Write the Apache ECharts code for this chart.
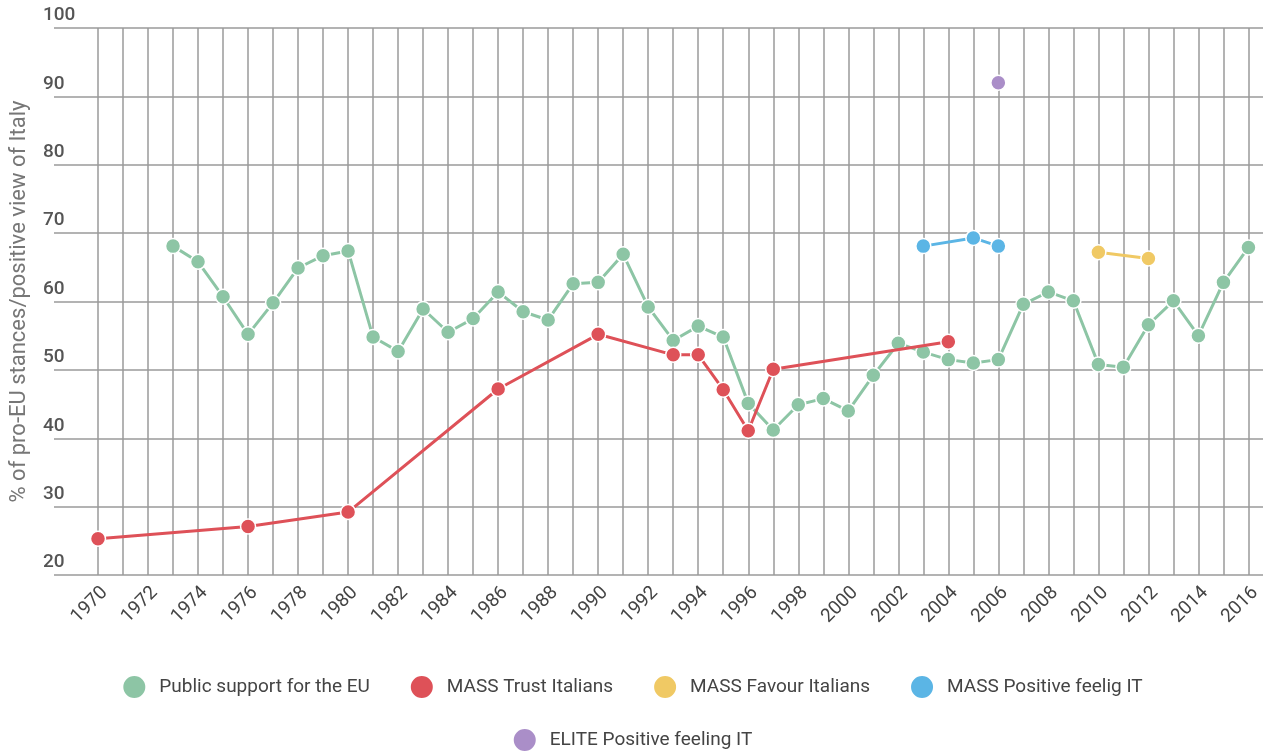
<!DOCTYPE html>
<html>
<head>
<meta charset="utf-8">
<script src="https://cdn.jsdelivr.net/npm/echarts@6/dist/echarts.min.js"></script>
<style>
html,body{margin:0;padding:0;background:#fff;}
#chart{width:1264px;height:753px;}
</style>
</head>
<body>
<div id="chart"></div>
<script>
var seriesNames = ['Public support for the EU','MASS Trust Italians','MASS Favour Italians','MASS Positive feelig IT','ELITE Positive feeling IT'];
var yTicks = [20,30,40,50,60,70,80,90,100];

var publicYears = [1973,1974,1975,1976,1977,1978,1979,1980,1981,1982,1983,1984,1985,1986,1987,1988,1989,1990,1991,1992,1993,1994,1995,1996,1997,1998,1999,2000,2001,2002,2003,2004,2005,2006,2007,2008,2009,2010,2011,2012,2013,2014,2015,2016];
var publicValues = [68.1,65.8,60.7,55.2,59.8,64.9,66.7,67.4,54.8,52.7,58.9,55.5,57.5,61.4,58.5,57.3,62.6,62.8,66.9,59.2,54.3,56.4,54.8,45.1,41.2,44.9,45.8,44.0,49.2,53.9,52.6,51.5,51.0,51.5,59.6,61.4,60.1,50.8,50.4,56.6,60.1,55.0,62.8,67.9];

var trustYears = [1970,1976,1980,1986,1990,1993,1994,1995,1996,1997,2004];
var trustValues = [25.3,27.1,29.2,47.2,55.2,52.2,52.2,47.1,41.1,50.1,54.1];

var favourYears = [2010,2012];
var favourValues = [67.2,66.3];

var massFeelYears = [2003,2005,2006];
var massFeelValues = [68.1,69.3,68.1];

var eliteYears = [2006];
var eliteValues = [92.0];

var colors = ['#8dc5a5','#de5158','#f0c964','#5bb5e5','#aa8ec8'];

function pairs(xs, ys){ return xs.map(function(x,i){ return [x, ys[i]]; }); }

var dataSets = [
  pairs(publicYears, publicValues),
  pairs(trustYears, trustValues),
  pairs(favourYears, favourValues),
  pairs(massFeelYears, massFeelValues),
  pairs(eliteYears, eliteValues)
];

var chart = echarts.init(document.getElementById('chart'));
var series = dataSets.map(function(d, i){
  return {
    name: seriesNames[i],
    type: 'line',
    xAxisIndex: 1,
    yAxisIndex: 1,
    data: d,
    symbol: 'circle',
    symbolSize: 15,
    showSymbol: true,
    lineStyle: {color: colors[i], width: 3},
    itemStyle: {color: colors[i], borderColor: '#fff', borderWidth: 1.5},
    z: 3 + i,
    animation: false
  };
});

var legendText = {fontSize: 19, color: '#444', fontFamily: 'Roboto', padding: [0,0,0,8]};

chart.setOption({
  animation: false,
  color: colors,
  grid: [
    {left: 43, right: 1, top: 28, bottom: 178, containLabel: false},
    {left: 98, right: 14, top: 28, bottom: 178, containLabel: false}
  ],
  xAxis: [
    {gridIndex: 0, type: 'value', min: 0, max: 1, show: false},
    {
      gridIndex: 1, type: 'value', min: 1970, max: 2016, interval: 1,
      axisLine: {show: false},
      axisTick: {show: false},
      splitLine: {show: true, lineStyle: {color: '#9a9a9a', width: 1.5}},
      axisLabel: {
        rotate: 45, margin: 8, fontSize: 19, color: '#444', fontFamily: 'Roboto',
        verticalAlign: 'top',
        formatter: function(v){ return (v % 2 === 0) ? String(v) : ''; }
      }
    }
  ],
  yAxis: [
    {
      gridIndex: 0, type: 'value', min: yTicks[0], max: yTicks[yTicks.length-1], interval: 10,
      name: '% of pro-EU stances/positive view of Italy',
      nameLocation: 'middle', nameGap: 24, nameRotate: 90,
      nameTextStyle: {fontSize: 22, color: '#777', fontFamily: 'Roboto'},
      axisLine: {show: false},
      axisTick: {show: false},
      splitLine: {show: true, lineStyle: {color: '#9a9a9a', width: 1.5}},
      axisLabel: {
        inside: true, margin: -11, align: 'left', verticalAlign: 'bottom',
        padding: [0,0,3,0],
        fontSize: 19, color: '#555', fontFamily: 'Roboto', fontWeight: 500
      }
    },
    {gridIndex: 1, type: 'value', min: yTicks[0], max: yTicks[yTicks.length-1], interval: 10, show: false}
  ],
  legend: [
    {
      data: seriesNames.slice(0,4),
      top: 669, left: 'center',
      icon: 'circle', itemWidth: 24, itemHeight: 24, itemGap: 39,
      textStyle: legendText
    },
    {
      data: seriesNames.slice(4),
      top: 722, left: 'center',
      icon: 'circle', itemWidth: 24, itemHeight: 24,
      textStyle: legendText
    }
  ],
  series: series
});
</script>
</body>
</html>
